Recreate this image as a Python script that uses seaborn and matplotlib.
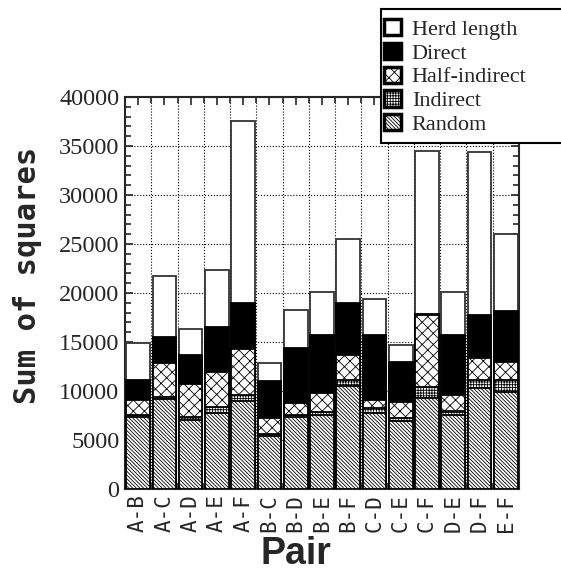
import matplotlib
matplotlib.use("Agg")
import matplotlib.pyplot as plt
import matplotlib.patches as mpatches
from matplotlib.ticker import MultipleLocator, FixedLocator
import seaborn as sns
import pandas as pd
import numpy as np

pairs = ["A-B", "A-C", "A-D", "A-E", "A-F", "B-C", "B-D", "B-E",
         "B-F", "C-D", "C-E", "C-F", "D-E", "D-F", "E-F"]
random_ = [7400, 9200, 7000, 7800, 9000, 5400, 7400, 7600,
           10500, 7800, 6900, 9300, 7600, 10300, 9900]
indirect = [200, 200, 400, 600, 600, 200, 200, 250,
            600, 500, 300, 1100, 400, 800, 1200]
half_indirect = [1500, 3450, 3300, 3500, 4700, 1650, 1200, 1950,
                 2600, 800, 1700, 7400, 1600, 2300, 1900]
direct = [2000, 2650, 3000, 4600, 4700, 3750, 5600, 5900,
          5300, 6600, 4100, 100, 6100, 4400, 5200]
herd_length = [3800, 6200, 2600, 5900, 18600, 1850, 3850, 4400,
               6500, 3700, 1700, 16600, 4400, 16600, 7800]

layers = ["Random", "Indirect", "Half-indirect", "Direct", "Herd length"]
df = pd.DataFrame({"Pair": pairs, "Random": random_, "Indirect": indirect,
                   "Half-indirect": half_indirect, "Direct": direct,
                   "Herd length": herd_length})
cum = df[layers].cumsum(axis=1)
cum["Pair"] = df["Pair"]

styles = {
    "Herd length": dict(color="white", hatch="", edgecolor="#333333"),
    "Direct": dict(color="black", hatch="", edgecolor="black"),
    "Half-indirect": dict(color="white", hatch="xxx", edgecolor="black"),
    "Indirect": dict(color="white", hatch="++++++", edgecolor="black"),
    "Random": dict(color="white", hatch="\\" * 9, edgecolor="black"),
}

sns.set_style("ticks")
plt.rcParams["hatch.linewidth"] = 0.6
serif = "Liberation Serif"

W, H = 561, 574
fig = plt.figure(figsize=(W / 100, H / 100), dpi=100)
ax = fig.add_axes([0.2228, 0.148, 0.925 - 0.2228, 0.831 - 0.148])

# stacked bars: draw cumulative totals from the top layer down
for name in layers[::-1]:
    st = styles[name]
    sns.barplot(data=cum, x="Pair", y=name, color=st["color"], hatch=st["hatch"],
                edgecolor=st["edgecolor"], linewidth=1.3, width=0.9,
                saturation=1, ax=ax, zorder=3)

ax.set_ylim(0, 40000)
ax.set_xlim(-0.5, len(pairs) - 0.5)
ax.yaxis.set_major_locator(MultipleLocator(5000))
ax.yaxis.set_minor_locator(MultipleLocator(1000))
ax.xaxis.set_minor_locator(FixedLocator(np.arange(0.5, len(pairs) - 0.5, 1)))
ax.grid(which="major", axis="y", linestyle=":", color="black", linewidth=0.8, zorder=0)
ax.grid(which="minor", axis="x", linestyle=":", color="black", linewidth=0.8, zorder=0)
ax.set_axisbelow(True)

ax.tick_params(which="both", direction="in", top=True, right=True, width=1.2)
ax.tick_params(which="major", length=6)
ax.tick_params(which="minor", length=4)
ax.tick_params(axis="y", pad=4)
for lab in ax.get_yticklabels():
    lab.set_fontfamily(serif)
    lab.set_fontsize(17.5)
ax.set_xticks(range(len(pairs)))
ax.set_xticklabels(pairs, rotation=90, fontfamily="DejaVu Sans Mono", fontsize=15)
for sp in ax.spines.values():
    sp.set_linewidth(1.5)

ax.set_ylabel("Sum of squares", fontfamily="DejaVu Sans Mono", fontweight="bold",
              fontsize=22)
ax.yaxis.set_label_coords(-0.21, 0.545)
ax.set_xlabel("Pair", fontfamily="Liberation Sans", fontweight="bold", fontsize=27)
ax.xaxis.set_label_coords(0.435, -0.12)

# legend box drawn by hand so it can run off the right edge like the original
frame = mpatches.Rectangle((381 / W, 1 - 143 / H), 185 / W, 134 / H,
                           transform=fig.transFigure, facecolor="white",
                           edgecolor="black", linewidth=1.5, zorder=4)
fig.patches.append(frame)

handles = []
for name in layers[::-1]:
    st = styles[name]
    handles.append(mpatches.Patch(facecolor=st["color"], hatch=st["hatch"],
                                  edgecolor="black", linewidth=2.5, label=name))
leg = fig.legend(handles=handles, loc="upper left",
                 bbox_to_anchor=(384 / W, 1 - 19 / H),
                 prop={"family": serif, "size": 16}, frameon=False,
                 handlelength=0.75, handleheight=0.75, handletextpad=0.5,
                 labelspacing=0.13, borderpad=0, borderaxespad=0)
leg.set_zorder(5)

fig.savefig("out.png", dpi=100)
